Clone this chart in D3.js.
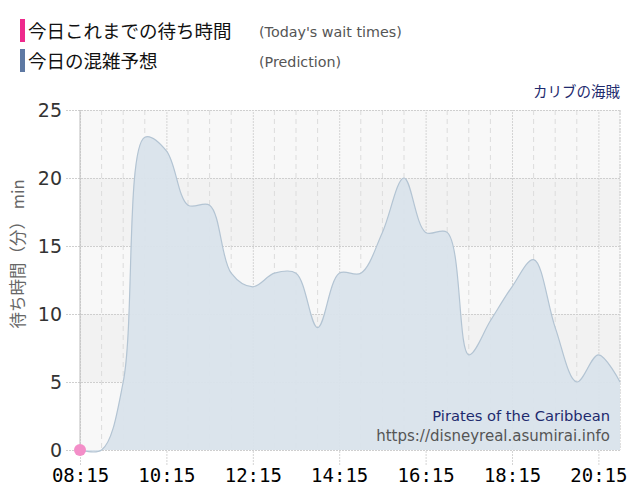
<!DOCTYPE html>
<html>
<head>
<meta charset="utf-8">
<script src="https://cdn.jsdelivr.net/npm/d3@7"></script>
<style>
  body { margin: 0; background: #fff; }
  svg { display: block; }
</style>
</head>
<body>
<svg id="chart" width="640" height="500"></svg>
<script>
// data
var times = ["08:15", "08:45", "09:15", "09:45", "10:15", "10:45", "11:15", "11:45",
             "12:15", "12:45", "13:15", "13:45", "14:15", "14:45", "15:15", "15:45",
             "16:15", "16:45", "17:15", "17:45", "18:15", "18:45", "19:15", "19:45",
             "20:15", "20:45"];
var predicted = [0, 0, 5, 23, 22, 18, 18, 13, 12, 13, 13, 9, 13, 13, 16, 20,
                 16, 16, 7, 9.5, 12, 14, 9, 5, 7, 5];
var todayTimes = ["08:15"];
var todayWaits = [0];
var xTickLabels = ["08:15", "10:15", "12:15", "14:15", "16:15", "18:15", "20:15"];
var yTicks = [0, 5, 10, 15, 20, 25];

var parse = d3.timeParse("%H:%M");
var width = 640, height = 500;
var margin = {top: 110, right: 20, bottom: 50, left: 80};

var svg = d3.select("#chart");

var x = d3.scaleTime()
    .domain([parse(times[0]), parse(times[times.length - 1])])
    .range([margin.left, width - margin.right]);
var y = d3.scaleLinear()
    .domain([0, 25])
    .range([height - margin.bottom, margin.top]);

var x0 = margin.left, x1 = width - margin.right;

// alternating bands
for (var i = 0; i < yTicks.length - 1; i++) {
    svg.append("rect")
        .attr("x", x0)
        .attr("y", y(yTicks[i + 1]))
        .attr("width", x1 - x0)
        .attr("height", y(yTicks[i]) - y(yTicks[i + 1]))
        .attr("fill", i % 2 ? "#f2f2f2" : "#f8f8f8");
}

// minor vertical grid (every 30 min)
var minor = times.filter(function (t) { return xTickLabels.indexOf(t) < 0; });
svg.append("g").selectAll("line")
    .data(minor)
    .enter().append("line")
    .attr("x1", function (d) { return x(parse(d)); })
    .attr("x2", function (d) { return x(parse(d)); })
    .attr("y1", y(25))
    .attr("y2", y(0))
    .attr("stroke", "#dcdcdc")
    .attr("stroke-dasharray", "5,4");

// horizontal grid
var yAxis = d3.axisLeft(y)
    .tickValues(yTicks)
    .tickSize(-(x1 - x0 + 14))
    .tickPadding(4);
var yAxisG = svg.append("g")
    .attr("transform", "translate(" + (x0 - 14) + ",0)")
    .call(yAxis);
yAxisG.select(".domain").remove();
yAxisG.selectAll("line")
    .attr("stroke", "#cfcfcf")
    .attr("stroke-dasharray", "2,1");
yAxisG.selectAll("text")
    .attr("fill", "#333")
    .attr("font-family", "DejaVu Sans")
    .attr("font-size", "19px");

// major vertical grid with ticks
var xAxis = d3.axisBottom(x)
    .tickValues(xTickLabels.map(parse))
    .tickFormat(d3.timeFormat("%H:%M"))
    .tickSize(-(y(0) - y(25)) - 15)
    .tickPadding(3);
var xAxisG = svg.append("g")
    .attr("transform", "translate(0," + (y(0) + 15) + ")")
    .call(xAxis);
xAxisG.select(".domain").remove();
xAxisG.selectAll("line")
    .attr("stroke", "#d4d4d4")
    .attr("stroke-dasharray", "2,1");
xAxisG.selectAll("text")
    .attr("fill", "#000")
    .attr("font-family", "DejaVu Sans Mono")
    .attr("font-size", "19px");

// right border
svg.append("line")
    .attr("x1", x1).attr("x2", x1)
    .attr("y1", y(25)).attr("y2", y(0))
    .attr("stroke", "#d0d0d0")
    .attr("stroke-dasharray", "2,1");

// prediction area
var pts = times.map(function (t, i) { return {t: parse(t), v: predicted[i]}; });
var area = d3.area()
    .curve(d3.curveCatmullRom)
    .x(function (d) { return x(d.t); })
    .y0(y(0))
    .y1(function (d) { return y(d.v); });
var line = d3.line()
    .curve(d3.curveCatmullRom)
    .x(function (d) { return x(d.t); })
    .y(function (d) { return y(d.v); });

svg.append("path")
    .datum(pts)
    .attr("d", area)
    .attr("fill", "#d9e3eb")
    .attr("fill-opacity", 0.95);
svg.append("path")
    .datum(pts)
    .attr("d", line)
    .attr("fill", "none")
    .attr("stroke", "#b3c4d3")
    .attr("stroke-width", 1.2);

// left axis line
svg.append("line")
    .attr("x1", x0).attr("x2", x0)
    .attr("y1", y(25)).attr("y2", y(0))
    .attr("stroke", "#bdbdbd");

// today's wait times
svg.append("g").selectAll("circle")
    .data(todayTimes)
    .enter().append("circle")
    .attr("cx", function (d) { return x(parse(d)); })
    .attr("cy", function (d, i) { return y(todayWaits[i]); })
    .attr("r", 6)
    .attr("fill", "#f38ec8");

// y axis title
svg.append("text")
    .attr("transform", "translate(24,254) rotate(-90)")
    .attr("text-anchor", "middle")
    .attr("fill", "#666")
    .attr("font-family", "Noto Sans CJK JP")
    .attr("font-size", "16.5px")
    .text("待ち時間（分） min");

// legend
var legend = [
    {color: "#ee2a8c", jp: "今日これまでの待ち時間", en: "(Today's wait times)"},
    {color: "#5e79a3", jp: "今日の混雑予想", en: "(Prediction)"}
];
var lg = svg.append("g").selectAll("g")
    .data(legend)
    .enter().append("g")
    .attr("transform", function (d, i) { return "translate(0," + (i * 30) + ")"; });
lg.append("rect")
    .attr("x", 20).attr("y", 19)
    .attr("width", 5).attr("height", 23)
    .attr("fill", function (d) { return d.color; });
lg.append("text")
    .attr("x", 28).attr("y", 38)
    .attr("font-family", "Noto Sans CJK JP")
    .attr("font-size", "18.5px")
    .attr("fill", "#111")
    .text(function (d) { return d.jp; });
lg.append("text")
    .attr("x", 259).attr("y", 37)
    .attr("font-family", "DejaVu Sans")
    .attr("font-size", "14.3px")
    .attr("fill", "#555")
    .text(function (d) { return d.en; });

// attraction name
svg.append("text")
    .attr("x", 620).attr("y", 97)
    .attr("text-anchor", "end")
    .attr("font-family", "Noto Sans CJK JP")
    .attr("font-size", "14.5px")
    .attr("fill", "#1e2a6e")
    .text("カリブの海賊");

svg.append("text")
    .attr("x", 610).attr("y", 421)
    .attr("text-anchor", "end")
    .attr("font-family", "DejaVu Sans")
    .attr("font-size", "14.7px")
    .attr("fill", "#1e2a6e")
    .text("Pirates of the Caribbean");
svg.append("text")
    .attr("x", 610).attr("y", 441)
    .attr("text-anchor", "end")
    .attr("font-family", "DejaVu Sans")
    .attr("font-size", "15px")
    .attr("fill", "#555")
    .text("https://disneyreal.asumirai.info");
</script>
</body>
</html>
